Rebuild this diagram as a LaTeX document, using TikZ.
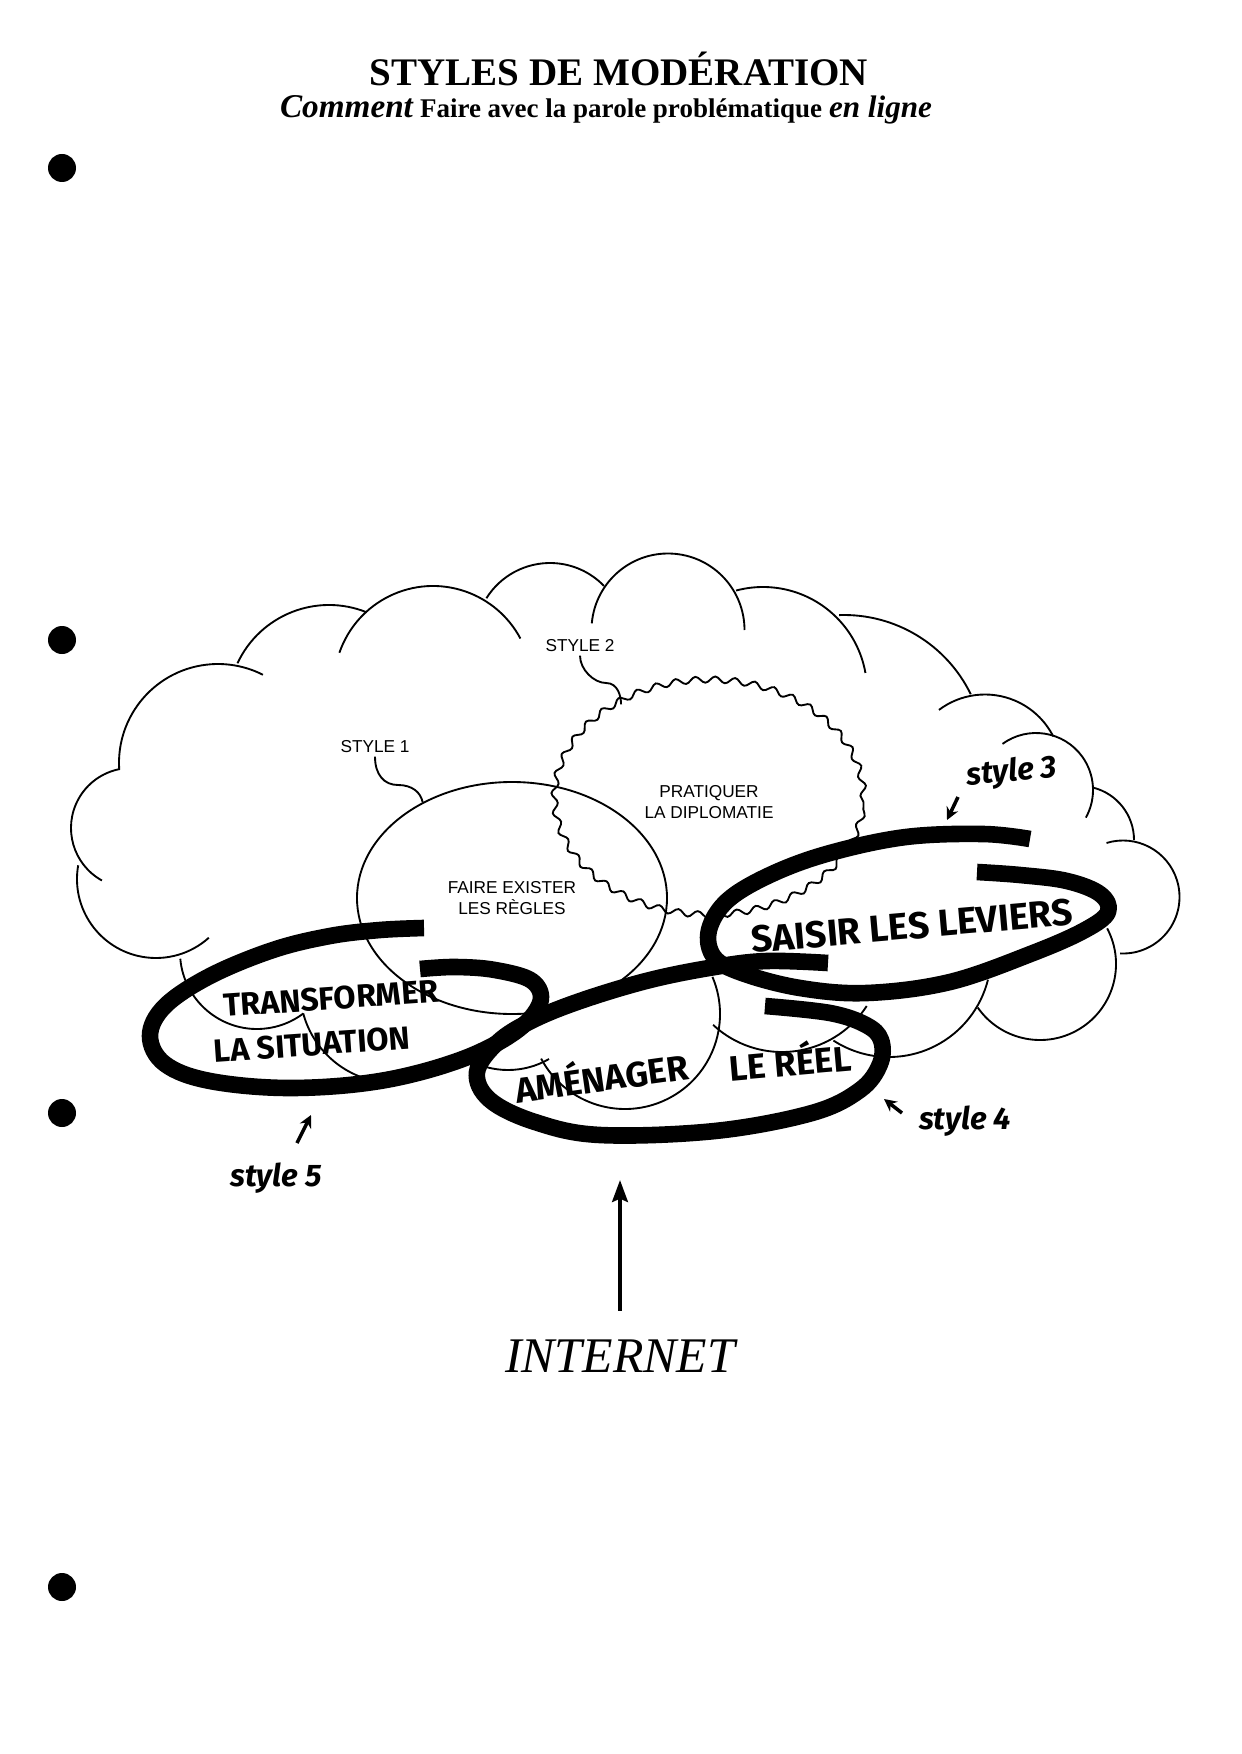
\documentclass[tikz,border=0pt]{standalone}
\usepackage{fontspec}
\setmainfont{Liberation Serif}
\newfontfamily\labelfont{Liberation Sans}
\newfontfamily\handfont{Fira Sans}
\usepackage{tikz}
\usetikzlibrary{arrows.meta, positioning, calc}
\usetikzlibrary{shapes.geometric, decorations.pathmorphing}
\newcommand{\cloudbump}[5]{\draw[cloudline] ([shift={(#4:#3)}]#1,#2) arc[start angle=#4, end angle=#5, radius=#3];}

\begin{document}
\begin{tikzpicture}[x=0.016922cm, y=-0.016922cm,
  cloudline/.style={line width=0.9pt},
  brush/.style={line width=8pt, line join=round},
  stylelbl/.style={font=\labelfont\fontsize{8.3}{9.8}\selectfont, inner sep=1.5pt},
  handtext/.style={font=\handfont\bfseries\fontsize{17}{17}\selectfont, inner sep=0pt},
  stylenote/.style={font=\handfont\bfseries\itshape\fontsize{15}{18}\selectfont, inner sep=0pt},
  smallarrow/.style={line width=1.7pt, -{Stealth[length=6pt, width=6pt]}},
  bigarrow/.style={line width=2pt, -{Stealth[length=10.5pt, width=7.5pt, inset=1.5pt]}},
  leader/.style={line width=0.9pt}]
\useasboundingbox (0,0) rectangle (1241,1754);

% ---------------- Title ----------------
\node[font=\bfseries\fontsize{18.8}{22}\selectfont, anchor=base] (title) at (619,86) {STYLES DE MODÉRATION};
\node[font=\bfseries\fontsize{13}{15}\selectfont, anchor=base, inner sep=0pt] (subtitle) at (621,118) {Faire avec la parole problématique};
\node[font=\bfseries\itshape\fontsize{16}{18}\selectfont, anchor=base east, inner sep=0pt] (comment) at ([xshift=-3pt]subtitle.base west) {Comment};
\node[font=\bfseries\itshape\fontsize{15}{18}\selectfont, anchor=base west, inner sep=0pt] (enligne) at ([xshift=3pt]subtitle.base east) {en ligne};

% binder holes
\foreach \dy in {168,640,1113,1587} \fill (62,\dy) circle[radius=14];

% ---------------- Cloud ----------------
\foreach \cx/\cy/\r/\a/\b in {131/828/60/119/259, 218/763/99/176/297, 329/706/101/205/292,
  433/685/99/199/332, 550/638/75/212/316, 668/630/76.5/185/360, 763/691/104/255/350,
  844/756/141/268/334, 985/771/76.5/233/333, 1036/790/57/234/389, 1080/840/54/284/360,
  1123/897/56.5/253/453, 1040/964/76/-28/145, 889/955/102/123/14, 782/951/101/133/33,
  625/1014/95/-23/152, 508/988/82/120/60, 156/879/79/190/48, 257/952/77/175/53,
  394/989/94/165/57}
  {\cloudbump{\cx}{\cy}{\r}{\a}{\b}}

% Inner styles
\node[ellipse, draw, cloudline, minimum width=5.246cm, minimum height=3.926cm, inner sep=0pt,
  align=center, font=\labelfont\fontsize{8.3}{9.8}\selectfont] (regles) at (512,898) {FAIRE EXISTER\\LES RÈGLES};
\node[ellipse, draw, cloudline, decorate, decoration={snake, amplitude=1.5pt, segment length=9.5pt},
  minimum width=5.229cm, minimum height=3.977cm, inner sep=0pt,
  align=center, font=\labelfont\fontsize{8.3}{9.8}\selectfont] (diplo) at (709,802) {PRATIQUER\\LA DIPLOMATIE};

% Labels
\node[stylelbl] (st1) at (375,747) {STYLE 1};
\node[stylelbl] (st2) at (580,646) {STYLE 2};
\draw[leader] (st1.south) .. controls +(0,18) and +(-14,0) .. (398,785) .. controls +(14,0) and +(-2,-10) .. (regles.133);
\draw[leader] (st2.south) .. controls +(0,14) and +(-12,0) .. (606,683) .. controls +(12,0) and +(0,-8) .. (diplo.132);

% ---------------- Brush loops ----------------
% transformer
\draw[brush] plot[smooth, tension=0.6] coordinates {(424,928) (380,930) (330,936) (273,950) (210,976)
  (165,1006) (150,1036) (165,1064) (210,1081) (290,1088) (380,1081) (460,1060) (515,1032) (540,1003)
  (532,981) (495,970) (455,967) (420,969)};
% amenager
\draw[brush] plot[smooth, tension=0.6] coordinates {(828,963) (767,961) (715,967) (650,980) (583,1000)
  (533,1020) (498,1042) (477,1072) (490,1100) (535,1122) (600,1135) (715,1131) (812,1113) (860,1090)
  (880,1064) (881,1040) (866,1025) (830,1013) (765,1006)};
% saisir
\draw[brush] plot[smooth, tension=0.6] coordinates {(1030,839) (983,834) (906,837) (830,853) (772,874)
  (728,900) (709,930) (714,957) (742,973) (800,988) (867,993) (950,982) (1033,953) (1085,930)
  (1108,912) (1100,894) (1067,881) (1020,875) (977,872)};

% handwritten words
\node[handtext, font=\handfont\bfseries\fontsize{15.5}{21.5}\selectfont, rotate=4, align=left] (transf) at (326,1021) {\hspace{6pt}TRANSFORMER\\LA SITUATION};
\node[handtext, rotate=8] (amen) at (601,1075) {AMÉNAGER};
\node[handtext, rotate=5] (reel) at (790,1059) {LE RÉEL};
\node[handtext, font=\handfont\bfseries\fontsize{18}{18}\selectfont, rotate=5] (leviers) at (912,926) {SAISIR LES LEVIERS};

% style notes
\node[stylenote, rotate=5] (sty3) at (1012,773) {style 3};
\node[stylenote] (sty4) at (965,1121) {style 4};
\node[stylenote] (sty5) at (276,1178) {style 5};
\coordinate (s3a) at (958,797);
\coordinate (s3b) at (947,820);
\coordinate (s4a) at (902,1113);
\coordinate (s4b) at (884,1099);
\coordinate (s5a) at (297,1143);
\coordinate (s5b) at (311,1115);
\draw[smallarrow] (s3a) -- (s3b);
\draw[smallarrow] (s4a) -- (s4b);
\draw[smallarrow] (s5a) -- (s5b);

% ---------------- Internet ----------------
\node[font=\itshape\fontsize{24}{28}\selectfont, anchor=base, inner sep=0pt] (inet) at (620,1372) {INTERNET};
\coordinate (inettip) at (620,1180);
\draw[bigarrow, shorten <=13.5pt] (inet) -- (inettip);
\end{tikzpicture}
\end{document}
